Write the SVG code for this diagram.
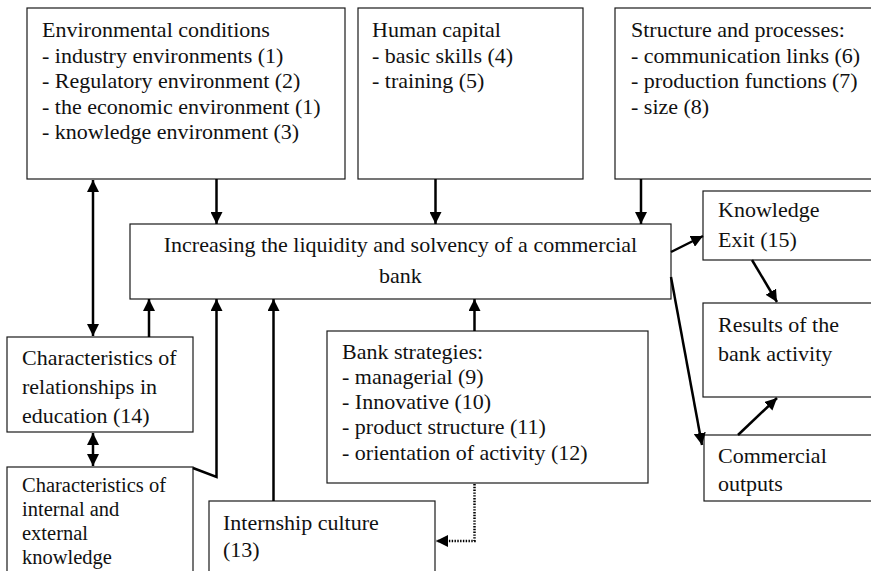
<svg xmlns="http://www.w3.org/2000/svg" width="871" height="571" viewBox="0 0 871 571">
  <style>
    .box { fill: #ffffff; stroke: #1a1a1a; stroke-width: 1.2; }
    .t { font-family: 'Liberation Serif', 'Times New Roman', serif; font-size: 22px; fill: #111111; }
    .ts { font-size: 20.5px; }
    .c { fill: none; stroke: #000000; stroke-width: 2.5; }
    .dot { stroke-dasharray: 1.4 1.4; }
  </style>
  <defs>
    <marker id="arrow" markerUnits="userSpaceOnUse" markerWidth="12" markerHeight="12" refX="12" refY="6" orient="auto-start-reverse">
      <path d="M0,0 L12,6 L0,12 z" fill="#000000"/>
    </marker>
  </defs>
  <rect width="871" height="571" fill="#ffffff"/>

  <g font-family="Liberation Serif, Times New Roman, serif">
  <g id="environmental-conditions">
    <rect class="box" x="27" y="8" width="318" height="171"/>
    <text class="t" x="42" y="37">Environmental conditions</text>
    <text class="t" x="42" y="62.5">- industry environments (1)</text>
    <text class="t" x="42" y="88">- Regulatory environment (2)</text>
    <text class="t" x="42" y="113.5">- the economic environment (1)</text>
    <text class="t" x="42" y="139">- knowledge environment (3)</text>
  </g>

  <g id="human-capital">
    <rect class="box" x="358" y="8" width="225" height="171"/>
    <text class="t" x="372" y="37">Human capital</text>
    <text class="t" x="372" y="62.5">- basic skills (4)</text>
    <text class="t" x="372" y="88">- training (5)</text>
  </g>

  <g id="structure-processes">
    <rect class="box" x="615" y="8" width="270" height="171"/>
    <text class="t" x="631" y="37">Structure and processes:</text>
    <text class="t" x="631" y="62.5">- communication links (6)</text>
    <text class="t" x="631" y="88">- production functions (7)</text>
    <text class="t" x="631" y="113.5">- size (8)</text>
  </g>

  <g id="liquidity-solvency">
    <rect class="box" x="130" y="224" width="541" height="75"/>
    <text class="t" x="400.5" y="252" text-anchor="middle">Increasing the liquidity and solvency of a commercial</text>
    <text class="t" x="400.5" y="283" text-anchor="middle">bank</text>
  </g>

  <g id="knowledge-exit">
    <rect class="box" x="703" y="191" width="180" height="69"/>
    <text class="t" x="718" y="217">Knowledge</text>
    <text class="t" x="718" y="246.5">Exit (15)</text>
  </g>

  <g id="bank-results">
    <rect class="box" x="703" y="303" width="180" height="94"/>
    <text class="t" x="718" y="332">Results of the</text>
    <text class="t" x="718" y="360.5">bank activity</text>
  </g>

  <g id="commercial-outputs">
    <rect class="box" x="704" y="435" width="180" height="66"/>
    <text class="t" x="718" y="463">Commercial</text>
    <text class="t" x="718" y="490.5">outputs</text>
  </g>

  <g id="education-relationships">
    <rect class="box" x="7" y="337" width="186" height="95"/>
    <text class="t" x="22" y="365">Characteristics of</text>
    <text class="t" x="22" y="394">relationships in</text>
    <text class="t" x="22" y="423">education (14)</text>
  </g>

  <g id="knowledge-characteristics">
    <rect class="box" x="7" y="467" width="186" height="120"/>
    <text class="t ts" x="22" y="492">Characteristics of</text>
    <text class="t ts" x="22" y="516">internal and</text>
    <text class="t ts" x="22" y="540">external</text>
    <text class="t ts" x="22" y="564">knowledge</text>
  </g>

  <g id="bank-strategies">
    <rect class="box" x="327" y="331" width="321" height="152"/>
    <text class="t" x="342" y="358.5">Bank strategies:</text>
    <text class="t" x="342" y="383.5">- managerial (9)</text>
    <text class="t" x="342" y="408.5">- Innovative (10)</text>
    <text class="t" x="342" y="434">- product structure (11)</text>
    <text class="t" x="342" y="459.5">- orientation of activity (12)</text>
  </g>

  <g id="internship-culture">
    <rect class="box" x="209" y="501" width="226" height="90"/>
    <text class="t" x="223" y="530">Internship culture</text>
    <text class="t" x="223" y="557">(13)</text>
  </g>
  </g>

  <g id="connectors">
    <path class="c" d="M93,180 L93,336" marker-start="url(#arrow)" marker-end="url(#arrow)"/>
    <path class="c" d="M216.5,179 L216.5,224" marker-end="url(#arrow)"/>
    <path class="c" d="M435.5,179 L435.5,224" marker-end="url(#arrow)"/>
    <path class="c" d="M641,179 L641,224" marker-end="url(#arrow)"/>
    <path class="c" d="M149,337 L149,299" marker-end="url(#arrow)"/>
    <path class="c" d="M193,468 L216.5,477 L216.5,299" marker-end="url(#arrow)"/>
    <path class="c" d="M273.5,501 L273.5,299" marker-end="url(#arrow)"/>
    <path class="c" d="M474.5,331 L474.5,299" marker-end="url(#arrow)"/>
    <path class="c dot" d="M474.5,484 L474.5,541 L436,541" marker-end="url(#arrow)"/>
    <path class="c" d="M93,433 L93,466" marker-start="url(#arrow)" marker-end="url(#arrow)"/>
    <path class="c" d="M671,252 L703,236" marker-end="url(#arrow)"/>
    <path class="c" d="M752,260 L777,302" marker-end="url(#arrow)"/>
    <path class="c" d="M671,277 L702,445" marker-end="url(#arrow)"/>
    <path class="c" d="M738,435 L777,398" marker-end="url(#arrow)"/>
  </g>
</svg>
